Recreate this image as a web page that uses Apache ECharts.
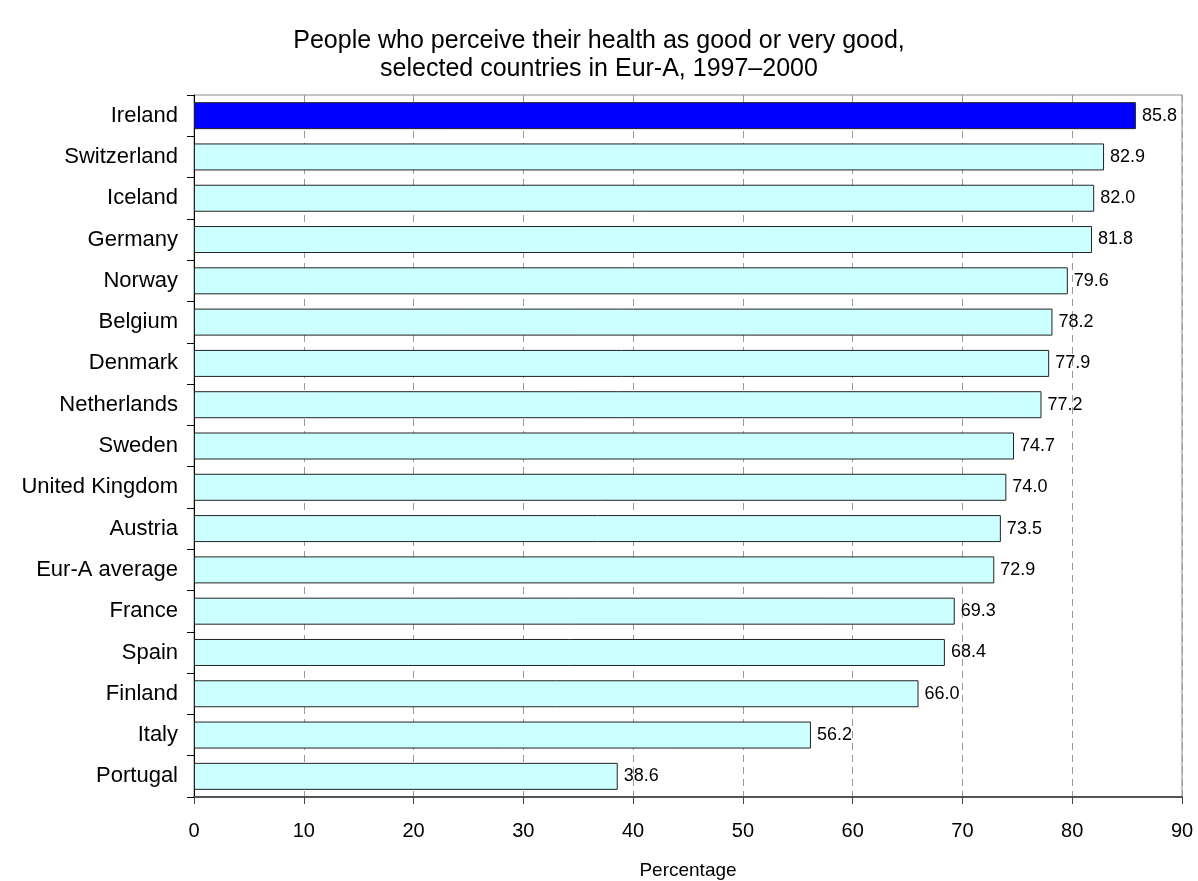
<!DOCTYPE html>
<html><head><meta charset="utf-8">
<script src="https://cdn.jsdelivr.net/npm/echarts@6/dist/echarts.min.js"></script>
<style>html,body{margin:0;padding:0;background:#fff}#c{width:1198px;height:881px}</style>
</head><body><div id="c"></div>
<script>
const categories = ["Ireland","Switzerland","Iceland","Germany","Norway","Belgium","Denmark","Netherlands","Sweden","United Kingdom","Austria","Eur-A average","France","Spain","Finland","Italy","Portugal"];
const values = [85.8,82.9,82.0,81.8,79.6,78.2,77.9,77.2,74.7,74.0,73.5,72.9,69.3,68.4,66.0,56.2,38.6];
const xTicks = [0,10,20,30,40,50,60,70,80,90];
const highlight = "Ireland";

const chart = echarts.init(document.getElementById('c'));
const font = '"Liberation Sans", Arial, sans-serif';
chart.setOption({
  animation:false,
  title:{text:'People who perceive their health as good or very good,\nselected countries in Eur-A, 1997\u20132000',left:'center',top:22,
    textStyle:{fontFamily:font,fontSize:25,fontWeight:'normal',color:'#000',lineHeight:28}},
  grid:{left:194,right:16,top:95,bottom:84,show:true,borderColor:'#888',borderWidth:1,outerBoundsMode:'none',containLabel:false},
  xAxis:{type:'value',min:xTicks[0],max:xTicks[xTicks.length-1],interval:10,
    name:'Percentage',nameLocation:'middle',nameGap:64,
    nameTextStyle:{fontFamily:font,fontSize:19,color:'#000'},
    axisLine:{show:true,lineStyle:{color:'#555',width:2}},
    axisTick:{show:true,length:7,lineStyle:{color:'#444'}},
    axisLabel:{fontFamily:font,fontSize:20,color:'#000',margin:24},
    splitLine:{show:true,lineStyle:{color:'#999',type:[7,5]}}},
  yAxis:{type:'category',data:categories,inverse:true,
    axisLine:{show:true,lineStyle:{color:'#000',width:1}},
    axisTick:{show:true,length:7,lineStyle:{color:'#000'}},
    axisLabel:{fontFamily:font,fontSize:22,color:'#000',margin:16},
    splitLine:{show:false}},
  series:[{type:'bar',barWidth:27,
    data:values.map((v,i)=>({value:v,itemStyle:{color:categories[i]===highlight?'#0000ff':'#ccffff'}})),
    itemStyle:{borderColor:'#222',borderWidth:1},
    label:{show:true,position:'right',distance:6,fontFamily:font,fontSize:18,color:'#000',
      formatter:p=>p.value.toFixed(1)}}]
});
</script></body></html>
